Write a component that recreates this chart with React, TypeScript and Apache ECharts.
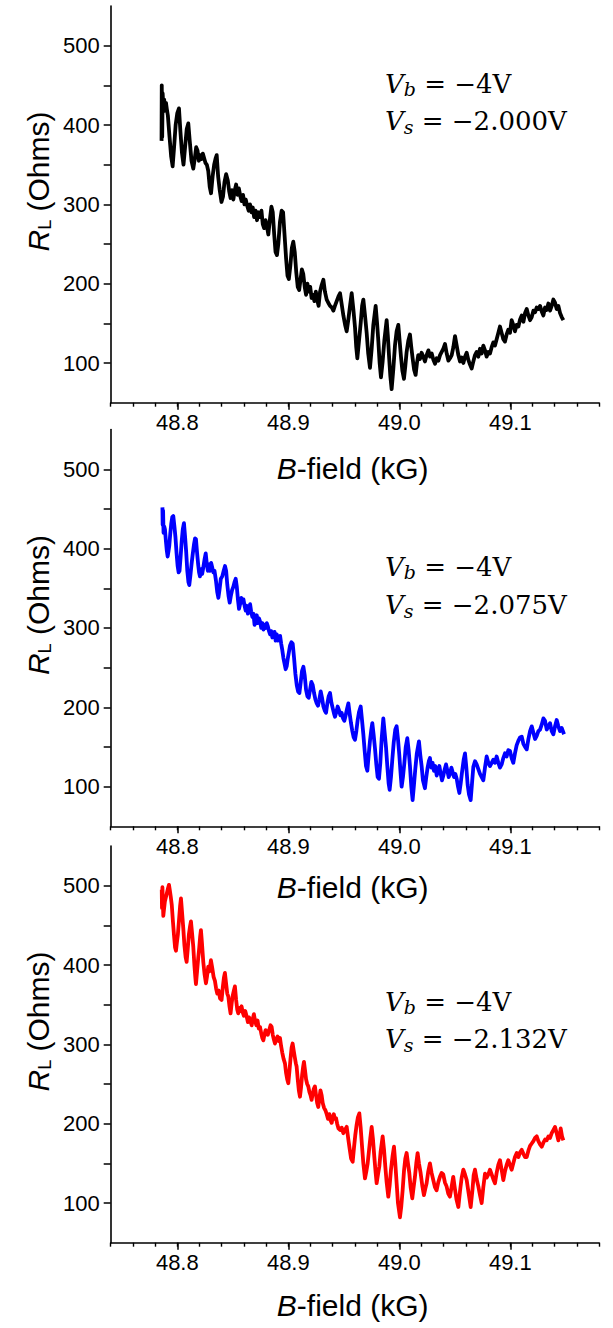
import React, { useEffect, useRef } from "react";
import * as echarts from "echarts";

// ---- data (B-field in kG, R_L in Ohms) ----
const blackTrace: [number, number][] = [
  [48.7858, 380], [48.7860, 450], [48.7864, 385], [48.7868, 440], [48.7874, 425], [48.7882, 432],
  [48.7890, 418], [48.7898, 428], [48.7906, 420], [48.7915, 412], [48.7930, 385], [48.7945, 360],
  [48.7958, 348], [48.7970, 370], [48.7985, 400], [48.8000, 415], [48.8015, 421], [48.8028, 392],
  [48.8042, 365], [48.8056, 350], [48.8070, 372], [48.8085, 395], [48.8099, 402], [48.8112, 380],
  [48.8128, 355], [48.8144, 345], [48.8158, 358], [48.8170, 372], [48.8182, 368], [48.8194, 355],
  [48.8206, 362], [48.8218, 357], [48.8230, 364], [48.8242, 358], [48.8254, 352], [48.8266, 350],
  [48.8279, 342], [48.8292, 322], [48.8304, 314], [48.8318, 335], [48.8332, 350], [48.8345, 358],
  [48.8355, 362], [48.8368, 335], [48.8382, 318], [48.8398, 303], [48.8412, 310], [48.8425, 328],
  [48.8440, 338], [48.8455, 330], [48.8468, 316], [48.8480, 308], [48.8492, 318], [48.8505, 306],
  [48.8518, 318], [48.8530, 325], [48.8543, 312], [48.8555, 320], [48.8568, 310], [48.8580, 304],
  [48.8592, 312], [48.8605, 300], [48.8617, 306], [48.8630, 298], [48.8643, 292], [48.8655, 300],
  [48.8668, 290], [48.8680, 296], [48.8692, 284], [48.8705, 292], [48.8718, 280], [48.8730, 290],
  [48.8745, 284], [48.8758, 292], [48.8770, 275], [48.8782, 270], [48.8795, 280], [48.8808, 272],
  [48.8820, 262], [48.8835, 282], [48.8848, 297], [48.8860, 290], [48.8873, 262], [48.8885, 240],
  [48.8898, 236], [48.8910, 250], [48.8925, 278], [48.8940, 292], [48.8953, 290], [48.8966, 262],
  [48.8980, 232], [48.8993, 210], [48.9005, 206], [48.9018, 222], [48.9032, 245], [48.9045, 253],
  [48.9058, 240], [48.9072, 214], [48.9085, 196], [48.9098, 192], [48.9110, 205], [48.9122, 218],
  [48.9135, 212], [48.9148, 196], [48.9160, 186], [48.9172, 200], [48.9185, 190], [48.9197, 196],
  [48.9210, 182], [48.9222, 186], [48.9235, 178], [48.9248, 190], [48.9260, 180], [48.9273, 172],
  [48.9286, 190], [48.9300, 198], [48.9316, 205], [48.9330, 190], [48.9346, 180], [48.9360, 176],
  [48.9376, 172], [48.9392, 170], [48.9406, 166], [48.9420, 172], [48.9436, 178], [48.9452, 184],
  [48.9466, 188], [48.9481, 174], [48.9496, 160], [48.9512, 148], [48.9526, 140], [48.9541, 155],
  [48.9556, 172], [48.9571, 188], [48.9586, 168], [48.9601, 145], [48.9612, 120], [48.9622, 106],
  [48.9637, 128], [48.9652, 150], [48.9665, 172], [48.9676, 180], [48.9691, 160], [48.9706, 138],
  [48.9720, 112], [48.9736, 94], [48.9751, 118], [48.9766, 148], [48.9787, 172], [48.9800, 150],
  [48.9811, 128], [48.9823, 100], [48.9835, 82], [48.9850, 102], [48.9865, 128], [48.9886, 154],
  [48.9897, 134], [48.9907, 110], [48.9919, 84], [48.9931, 67], [48.9946, 92], [48.9961, 122],
  [48.9976, 140], [48.9991, 148], [49.0003, 128], [49.0015, 108], [49.0028, 90], [49.0042, 80],
  [49.0054, 96], [49.0066, 114], [49.0081, 128], [49.0096, 136], [49.0108, 120], [49.0120, 106],
  [49.0133, 92], [49.0147, 85], [49.0159, 100], [49.0171, 110], [49.0186, 105], [49.0201, 113],
  [49.0216, 108], [49.0231, 102], [49.0246, 110], [49.0262, 116], [49.0277, 108], [49.0292, 112],
  [49.0307, 104], [49.0322, 99], [49.0337, 106], [49.0352, 103], [49.0367, 110], [49.0382, 114],
  [49.0397, 118], [49.0412, 124], [49.0427, 112], [49.0442, 103], [49.0457, 106], [49.0472, 110],
  [49.0487, 120], [49.0502, 134], [49.0517, 122], [49.0532, 110], [49.0547, 102], [49.0562, 107],
  [49.0577, 100], [49.0592, 108], [49.0607, 113], [49.0622, 104], [49.0637, 98], [49.0652, 93],
  [49.0667, 102], [49.0682, 110], [49.0697, 114], [49.0712, 108], [49.0727, 118], [49.0742, 112],
  [49.0757, 122], [49.0772, 116], [49.0787, 108], [49.0802, 114], [49.0817, 112], [49.0832, 120],
  [49.0847, 126], [49.0862, 122], [49.0877, 130], [49.0892, 138], [49.0907, 146], [49.0922, 138],
  [49.0937, 130], [49.0952, 127], [49.0967, 136], [49.0982, 142], [49.0997, 138], [49.1012, 154],
  [49.1027, 148], [49.1042, 140], [49.1057, 148], [49.1073, 146], [49.1088, 155], [49.1103, 160],
  [49.1118, 152], [49.1133, 163], [49.1148, 168], [49.1163, 160], [49.1178, 154], [49.1193, 158],
  [49.1208, 166], [49.1223, 164], [49.1238, 170], [49.1253, 168], [49.1268, 172], [49.1283, 165],
  [49.1298, 160], [49.1313, 170], [49.1328, 167], [49.1343, 175], [49.1358, 166], [49.1373, 172],
  [49.1388, 180], [49.1403, 176], [49.1418, 168], [49.1433, 172], [49.1448, 163], [49.1463, 158],
  [49.1478, 154],
];

const blueTrace: [number, number][] = [
  [48.7866, 452], [48.7868, 430], [48.7872, 448], [48.7876, 420], [48.7882, 428], [48.7889, 424],
  [48.7897, 410], [48.7905, 398], [48.7913, 390], [48.7920, 396], [48.7928, 404], [48.7936, 418],
  [48.7946, 432], [48.7955, 440], [48.7964, 441], [48.7974, 428], [48.7983, 415], [48.7993, 395],
  [48.8003, 378], [48.8012, 370], [48.8020, 372], [48.8030, 390], [48.8040, 410], [48.8050, 425],
  [48.8060, 432], [48.8070, 415], [48.8080, 396], [48.8090, 372], [48.8100, 358], [48.8108, 354],
  [48.8118, 366], [48.8128, 380], [48.8138, 392], [48.8150, 405], [48.8160, 413], [48.8168, 412],
  [48.8178, 395], [48.8188, 380], [48.8196, 370], [48.8204, 365], [48.8214, 374], [48.8224, 368],
  [48.8234, 376], [48.8245, 386], [48.8256, 394], [48.8265, 382], [48.8275, 372], [48.8285, 380],
  [48.8295, 372], [48.8305, 382], [48.8315, 376], [48.8325, 370], [48.8335, 372], [48.8348, 360],
  [48.8360, 345], [48.8370, 338], [48.8380, 348], [48.8392, 362], [48.8405, 365], [48.8418, 372],
  [48.8430, 378], [48.8440, 372], [48.8450, 355], [48.8462, 340], [48.8472, 332], [48.8482, 340],
  [48.8494, 348], [48.8505, 352], [48.8516, 358], [48.8526, 362], [48.8536, 352], [48.8546, 336],
  [48.8556, 324], [48.8566, 330], [48.8576, 338], [48.8586, 332], [48.8596, 336], [48.8606, 328],
  [48.8616, 322], [48.8626, 328], [48.8636, 318], [48.8646, 324], [48.8656, 330], [48.8666, 320],
  [48.8676, 314], [48.8686, 318], [48.8696, 304], [48.8706, 308], [48.8716, 316], [48.8726, 306],
  [48.8736, 312], [48.8746, 308], [48.8756, 300], [48.8766, 306], [48.8776, 298], [48.8786, 304],
  [48.8796, 300], [48.8806, 306], [48.8816, 302], [48.8826, 296], [48.8836, 292], [48.8846, 296],
  [48.8856, 288], [48.8866, 290], [48.8876, 295], [48.8886, 284], [48.8896, 292], [48.8906, 284],
  [48.8916, 288], [48.8926, 290], [48.8936, 280], [48.8946, 272], [48.8956, 262], [48.8966, 255],
  [48.8976, 248], [48.8986, 252], [48.8996, 262], [48.9006, 270], [48.9016, 278], [48.9028, 282],
  [48.9040, 280], [48.9052, 262], [48.9064, 242], [48.9076, 228], [48.9088, 220], [48.9100, 218],
  [48.9112, 232], [48.9124, 246], [48.9136, 251], [48.9148, 240], [48.9160, 222], [48.9172, 214],
  [48.9184, 212], [48.9196, 222], [48.9208, 232], [48.9220, 228], [48.9232, 218], [48.9244, 210],
  [48.9256, 205], [48.9268, 202], [48.9280, 210], [48.9292, 220], [48.9304, 212], [48.9316, 201],
  [48.9328, 196], [48.9340, 193], [48.9352, 205], [48.9364, 214], [48.9376, 218], [48.9388, 206],
  [48.9400, 199], [48.9412, 192], [48.9421, 188], [48.9433, 194], [48.9445, 201], [48.9457, 196],
  [48.9469, 190], [48.9481, 193], [48.9493, 186], [48.9505, 183], [48.9517, 190], [48.9529, 198],
  [48.9541, 205], [48.9553, 192], [48.9565, 180], [48.9577, 170], [48.9589, 162], [48.9601, 159],
  [48.9613, 170], [48.9625, 184], [48.9637, 194], [48.9652, 201], [48.9664, 184], [48.9676, 166],
  [48.9688, 145], [48.9700, 126], [48.9712, 120], [48.9724, 140], [48.9736, 158], [48.9748, 172],
  [48.9757, 180], [48.9769, 165], [48.9781, 148], [48.9793, 128], [48.9805, 112], [48.9817, 110],
  [48.9829, 130], [48.9841, 160], [48.9856, 186], [48.9868, 168], [48.9880, 150], [48.9892, 126],
  [48.9904, 104], [48.9913, 96], [48.9925, 112], [48.9937, 134], [48.9950, 156], [48.9964, 172],
  [48.9976, 176], [48.9988, 160], [49.0000, 140], [49.0012, 116], [49.0021, 100], [49.0033, 112],
  [49.0045, 129], [49.0058, 150], [49.0072, 161], [49.0084, 146], [49.0096, 126], [49.0108, 100],
  [49.0120, 83], [49.0132, 102], [49.0144, 122], [49.0158, 142], [49.0177, 157], [49.0189, 140],
  [49.0201, 126], [49.0213, 108], [49.0231, 98], [49.0243, 112], [49.0255, 124], [49.0266, 132],
  [49.0276, 136], [49.0288, 124], [49.0300, 130], [49.0312, 120], [49.0324, 126], [49.0337, 114],
  [49.0349, 120], [49.0361, 126], [49.0373, 116], [49.0385, 108], [49.0397, 114], [49.0409, 122],
  [49.0421, 128], [49.0433, 120], [49.0445, 112], [49.0457, 116], [49.0469, 124], [49.0481, 118],
  [49.0493, 112], [49.0505, 116], [49.0517, 110], [49.0529, 100], [49.0541, 92], [49.0553, 104],
  [49.0565, 118], [49.0580, 134], [49.0592, 142], [49.0604, 124], [49.0616, 102], [49.0628, 90],
  [49.0643, 83], [49.0655, 104], [49.0667, 125], [49.0682, 132], [49.0697, 128], [49.0712, 122],
  [49.0727, 116], [49.0742, 112], [49.0757, 108], [49.0772, 124], [49.0787, 138], [49.0802, 130],
  [49.0817, 126], [49.0832, 130], [49.0847, 134], [49.0862, 130], [49.0877, 138], [49.0892, 130],
  [49.0907, 124], [49.0922, 128], [49.0937, 136], [49.0952, 142], [49.0967, 138], [49.0982, 146],
  [49.0997, 145], [49.1012, 136], [49.1027, 130], [49.1042, 142], [49.1057, 152], [49.1073, 158],
  [49.1088, 162], [49.1103, 163], [49.1118, 154], [49.1133, 150], [49.1148, 147], [49.1163, 160],
  [49.1178, 170], [49.1193, 176], [49.1208, 168], [49.1223, 160], [49.1238, 164], [49.1253, 170],
  [49.1268, 172], [49.1283, 178], [49.1298, 186], [49.1313, 183], [49.1328, 172], [49.1343, 176],
  [49.1358, 180], [49.1373, 170], [49.1388, 166], [49.1403, 176], [49.1418, 184], [49.1433, 176],
  [49.1448, 170], [49.1463, 174], [49.1484, 166],
];

const redTrace: [number, number][] = [
  [48.7860, 495], [48.7862, 472], [48.7866, 498], [48.7870, 478], [48.7874, 462], [48.7880, 470],
  [48.7888, 480], [48.7895, 484], [48.7905, 490], [48.7915, 496], [48.7925, 501], [48.7933, 494],
  [48.7941, 486], [48.7950, 476], [48.7960, 456], [48.7970, 438], [48.7980, 422], [48.7988, 418],
  [48.7996, 428], [48.8005, 438], [48.8015, 456], [48.8025, 474], [48.8033, 484], [48.8043, 466],
  [48.8054, 446], [48.8064, 425], [48.8075, 410], [48.8084, 404], [48.8094, 420], [48.8104, 438],
  [48.8114, 448], [48.8123, 455], [48.8133, 440], [48.8144, 423], [48.8154, 400], [48.8162, 385],
  [48.8168, 376], [48.8178, 392], [48.8188, 408], [48.8198, 422], [48.8206, 436], [48.8213, 444],
  [48.8222, 428], [48.8234, 404], [48.8246, 388], [48.8258, 377], [48.8268, 386], [48.8279, 398],
  [48.8290, 392], [48.8303, 406], [48.8315, 396], [48.8327, 385], [48.8339, 380], [48.8350, 370],
  [48.8360, 364], [48.8372, 368], [48.8385, 358], [48.8399, 356], [48.8410, 372], [48.8420, 384],
  [48.8429, 390], [48.8440, 376], [48.8450, 364], [48.8460, 360], [48.8470, 348], [48.8480, 339],
  [48.8490, 352], [48.8500, 362], [48.8510, 368], [48.8519, 373], [48.8530, 356], [48.8540, 344],
  [48.8549, 339], [48.8560, 346], [48.8570, 342], [48.8579, 348], [48.8590, 340], [48.8600, 336],
  [48.8612, 342], [48.8625, 335], [48.8636, 328], [48.8647, 334], [48.8658, 330], [48.8670, 324],
  [48.8680, 332], [48.8690, 338], [48.8700, 330], [48.8712, 324], [48.8723, 330], [48.8734, 320],
  [48.8745, 322], [48.8756, 314], [48.8766, 308], [48.8775, 305], [48.8785, 312], [48.8795, 318],
  [48.8805, 316], [48.8815, 312], [48.8828, 318], [48.8840, 324], [48.8850, 322], [48.8860, 312],
  [48.8870, 306], [48.8880, 301], [48.8890, 306], [48.8903, 310], [48.8915, 304], [48.8925, 308],
  [48.8935, 298], [48.8945, 290], [48.8957, 282], [48.8970, 276], [48.8980, 264], [48.8990, 256],
  [48.9000, 251], [48.9010, 266], [48.9020, 282], [48.9030, 296], [48.9039, 301], [48.9049, 292],
  [48.9058, 284], [48.9068, 276], [48.9075, 272], [48.9085, 256], [48.9095, 242], [48.9105, 234],
  [48.9115, 246], [48.9125, 262], [48.9134, 272], [48.9141, 278], [48.9150, 268], [48.9160, 256],
  [48.9170, 250], [48.9180, 247], [48.9190, 240], [48.9200, 236], [48.9210, 230], [48.9220, 238],
  [48.9230, 244], [48.9240, 247], [48.9250, 236], [48.9260, 226], [48.9270, 221], [48.9280, 232],
  [48.9290, 242], [48.9300, 236], [48.9310, 226], [48.9322, 220], [48.9334, 217], [48.9346, 212],
  [48.9358, 206], [48.9370, 212], [48.9381, 204], [48.9391, 201], [48.9400, 208], [48.9410, 212],
  [48.9420, 206], [48.9430, 207], [48.9440, 200], [48.9452, 194], [48.9466, 192], [48.9481, 195],
  [48.9496, 188], [48.9510, 192], [48.9526, 196], [48.9541, 180], [48.9553, 168], [48.9566, 156],
  [48.9580, 152], [48.9592, 170], [48.9603, 185], [48.9615, 198], [48.9627, 208], [48.9640, 213],
  [48.9652, 195], [48.9664, 172], [48.9676, 150], [48.9691, 131], [48.9703, 140], [48.9715, 150],
  [48.9727, 166], [48.9739, 182], [48.9751, 196], [48.9763, 180], [48.9775, 158], [48.9787, 138],
  [48.9796, 125], [48.9808, 136], [48.9820, 146], [48.9832, 165], [48.9850, 184], [48.9862, 168],
  [48.9874, 146], [48.9886, 126], [48.9901, 108], [48.9913, 122], [48.9925, 142], [48.9940, 160],
  [48.9952, 171], [48.9964, 150], [48.9976, 125], [48.9988, 100], [49.0000, 88], [49.0006, 82],
  [49.0018, 96], [49.0030, 116], [49.0042, 140], [49.0054, 156], [49.0066, 163], [49.0078, 150],
  [49.0090, 138], [49.0102, 120], [49.0117, 106], [49.0129, 120], [49.0141, 133], [49.0153, 150],
  [49.0165, 163], [49.0177, 150], [49.0192, 138], [49.0207, 122], [49.0222, 110], [49.0234, 118],
  [49.0246, 125], [49.0261, 140], [49.0276, 150], [49.0291, 138], [49.0306, 129], [49.0321, 120],
  [49.0336, 116], [49.0351, 126], [49.0366, 133], [49.0381, 138], [49.0396, 136], [49.0411, 126],
  [49.0426, 121], [49.0441, 112], [49.0456, 108], [49.0471, 120], [49.0486, 133], [49.0501, 118],
  [49.0516, 104], [49.0532, 95], [49.0547, 115], [49.0562, 132], [49.0577, 142], [49.0592, 136],
  [49.0607, 129], [49.0625, 112], [49.0643, 95], [49.0660, 118], [49.0670, 135], [49.0682, 142],
  [49.0697, 130], [49.0712, 121], [49.0727, 110], [49.0742, 100], [49.0757, 120], [49.0772, 137],
  [49.0787, 132], [49.0802, 136], [49.0817, 142], [49.0832, 136], [49.0847, 130], [49.0862, 125],
  [49.0877, 138], [49.0892, 148], [49.0907, 154], [49.0922, 142], [49.0937, 129], [49.0952, 140],
  [49.0967, 148], [49.0982, 154], [49.0997, 148], [49.1012, 142], [49.1027, 150], [49.1042, 158],
  [49.1058, 163], [49.1073, 158], [49.1088, 164], [49.1103, 167], [49.1118, 162], [49.1133, 158],
  [49.1148, 158], [49.1163, 166], [49.1178, 172], [49.1193, 175], [49.1208, 178], [49.1223, 182],
  [49.1238, 184], [49.1253, 178], [49.1268, 174], [49.1283, 171], [49.1298, 176], [49.1313, 180],
  [49.1328, 179], [49.1343, 184], [49.1358, 182], [49.1373, 188], [49.1388, 192], [49.1403, 196],
  [49.1418, 188], [49.1433, 179], [49.1445, 186], [49.1454, 194], [49.1466, 184], [49.1478, 179],
];

const biasVoltages = ["−4V", "−4V", "−4V"];
const sourceVoltages = ["−2.000V", "−2.075V", "−2.132V"];
const traces = [blackTrace, blueTrace, redTrace];
const traceColors = ["#000000", "#0000ff", "#ff0000"];

// axis ranges / ticks
const X_MIN = 48.74;
const X_MAX = 49.18;
const X_MINOR = 0.02;
const X_LABEL_MIN = 48.8;
const X_LABEL_MAX = 49.1;
const X_MAJOR = 0.1;
const Y_MIN = 50;
const Y_MAX = 550;
const Y_TICK_MIN = 100;
const Y_TICK_MAX = 500;
const Y_TICK = 50;

// ---- layout (pixels) ----
const PLOT_LEFT = 110.7;
const PX_PER_X = 1110;
const PLOT_W = (X_MAX - X_MIN) * PX_PER_X;
const PLOT_H = 396.7;
const PX_PER_Y = PLOT_H / (Y_MAX - Y_MIN);
const PANEL_TOPS = [6, 429.6, 846];
const X_TITLE_Y = [468, 887, 1305];
const ANNO_Y = [
  [83.5, 121],
  [566.5, 605],
  [1001.5, 1039],
];

const SANS = "Liberation Sans, Arial, sans-serif";
const SERIF = "DejaVu Serif, serif";

function buildOption() {
  const grid: any[] = [];
  const xAxis: any[] = [];
  const yAxis: any[] = [];
  const series: any[] = [];
  const elements: any[] = [];

  PANEL_TOPS.forEach((top, i) => {
    const g = i * 3;
    grid.push({ left: PLOT_LEFT, top, width: PLOT_W, height: PLOT_H });
    grid.push({
      left: PLOT_LEFT + (X_LABEL_MIN - X_MIN) * PX_PER_X,
      top,
      width: (X_LABEL_MAX - X_LABEL_MIN) * PX_PER_X,
      height: PLOT_H,
    });
    grid.push({
      left: PLOT_LEFT,
      top: top + (Y_MAX - Y_TICK_MAX) * PX_PER_Y,
      width: PLOT_W,
      height: (Y_TICK_MAX - Y_TICK_MIN) * PX_PER_Y,
    });

    xAxis.push({
      gridIndex: g,
      type: "value",
      min: X_MIN,
      max: X_MAX,
      interval: X_MINOR,
      axisLine: { onZero: false, lineStyle: { color: "#000", width: 1.6 } },
      axisTick: { length: 4, lineStyle: { color: "#000", width: 1.4 } },
      axisLabel: { show: false },
      splitLine: { show: false },
    });
    xAxis.push({
      gridIndex: g + 1,
      type: "value",
      min: X_LABEL_MIN,
      max: X_LABEL_MAX,
      interval: X_MAJOR,
      axisLine: { show: false, onZero: false },
      axisTick: { show: true, length: 7, lineStyle: { color: "#000", width: 1.5 } },
      axisLabel: {
        color: "#000",
        fontSize: 22,
        fontFamily: SANS,
        margin: 9,
        formatter: (v: number) => v.toFixed(1),
      },
      splitLine: { show: false },
    });
    xAxis.push({ gridIndex: g + 2, type: "value", min: 0, max: 1, show: false });

    yAxis.push({
      gridIndex: g,
      type: "value",
      min: Y_MIN,
      max: Y_MAX,
      interval: Y_TICK,
      axisLine: { show: true, onZero: false, lineStyle: { color: "#000", width: 1.6 } },
      axisTick: { show: false },
      axisLabel: { show: false },
      splitLine: { show: false },
    });
    yAxis.push({ gridIndex: g + 1, type: "value", min: 0, max: 1, show: false });
    yAxis.push({
      gridIndex: g + 2,
      type: "value",
      min: Y_TICK_MIN,
      max: Y_TICK_MAX,
      interval: Y_TICK,
      axisLine: { show: false, onZero: false },
      axisTick: { show: true, length: 7, lineStyle: { color: "#000", width: 1.5 } },
      axisLabel: {
        color: "#000",
        fontSize: 22,
        fontFamily: SANS,
        margin: 11,
        formatter: (v: number) => (v % 100 === 0 ? String(v) : ""),
      },
      splitLine: { show: false },
    });

    series.push({
      type: "line",
      xAxisIndex: g,
      yAxisIndex: g,
      data: traces[i],
      showSymbol: false,
      symbol: "none",
      color: traceColors[i],
      lineStyle: { color: traceColors[i], width: 3.8, join: "round" },
      silent: true,
      clip: true,
    });

    elements.push({
      type: "text",
      x: PLOT_LEFT + 242,
      y: X_TITLE_Y[i],
      style: {
        text: "{i|B}{n|-field (kG)}",
        align: "center",
        verticalAlign: "middle",
        fill: "#000",
        rich: {
          i: { fontSize: 30, fontFamily: SANS, fontStyle: "italic", fill: "#000" },
          n: { fontSize: 30, fontFamily: SANS, fill: "#000" },
        },
      },
    });
    elements.push({
      type: "text",
      x: 38,
      y: top + 175.5,
      rotation: Math.PI / 2,
      style: {
        text: "{r|R}{l|L}{n| (Ohms)}",
        align: "center",
        verticalAlign: "middle",
        fill: "#000",
        rich: {
          r: { fontSize: 30, fontFamily: SANS, fontStyle: "italic", fill: "#000", lineHeight: 32 },
          l: { fontSize: 18, fontFamily: SANS, fill: "#000", verticalAlign: "bottom", lineHeight: 20 },
          n: { fontSize: 30, fontFamily: SANS, fill: "#000", lineHeight: 32 },
        },
      },
    });
    const annoRich = {
      v: { fontSize: 26, fontFamily: SERIF, fontStyle: "italic", fill: "#000", lineHeight: 30 },
      s: { fontSize: 19, fontFamily: SERIF, fontStyle: "italic", fill: "#000", verticalAlign: "bottom", lineHeight: 18 },
      t: { fontSize: 26, fontFamily: SERIF, fill: "#000", lineHeight: 30 },
    };
    elements.push({
      type: "text",
      x: 385,
      y: ANNO_Y[i][0],
      style: {
        text: `{v|V}{s|b}{t| = ${biasVoltages[i]}}`,
        align: "left",
        verticalAlign: "middle",
        rich: annoRich,
      },
    });
    elements.push({
      type: "text",
      x: 385,
      y: ANNO_Y[i][1],
      style: {
        text: `{v|V}{s|s}{t| = ${sourceVoltages[i]}}`,
        align: "left",
        verticalAlign: "middle",
        rich: annoRich,
      },
    });
  });

  return {
    animation: false,
    backgroundColor: "#ffffff",
    grid,
    xAxis,
    yAxis,
    series,
    graphic: { elements },
  };
}

export default function App() {
  const ref = useRef<HTMLDivElement>(null);
  useEffect(() => {
    if (!ref.current) return;
    const chart = echarts.init(ref.current, null, { renderer: "svg" });
    chart.setOption(buildOption() as any);
    return () => chart.dispose();
  }, []);
  return (
    <div
      ref={ref}
      style={{ position: "absolute", left: 0, top: 0, width: 613, height: 1328, background: "#fff" }}
    />
  );
}
